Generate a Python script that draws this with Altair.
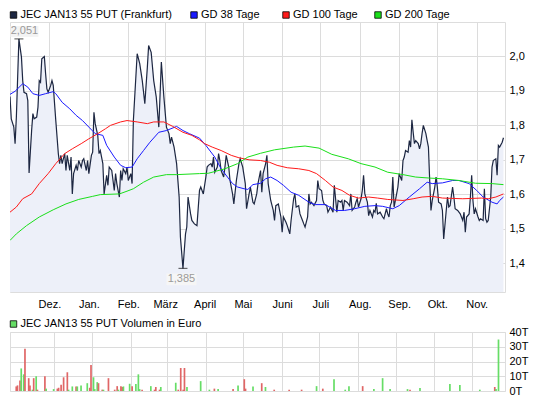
import altair as alt
import pandas as pd

# ---------------- data ----------------
START = "2011-10-31"   # day 0 of the day offsets below

price_day = [0,1,3,4,5,7,9,10,11,13,14,15,17,18,19,21,22,23,24,25,27,28,29,30,32,33,34,36,38,39,40,41,43,44,45,47,48,49,50,52,53,54,56,57,58,60,61,62,64,65,66,67,69,70,71,73,74,76,77,78,80,82,83,84,86,87,88,89,91,92,93,95,96,97,100,102,104,106,108,109,111,113,115,117,119,121,123,125,126,127,129,131,133,134,136,138,139,140,142,143,145,147,149,150,152,154,155,156,158,159,160,161,163,164,165,166,168,169,170,172,173,175,176,178,180,181,183,185,186,188,189,191,192,194,195,197,198,199,201,202,203,205,207,208,209,211,213,214,215,217,218,220,221,223,224,225,227,228,230,231,232,234,235,236,237,239,241,242,243,245,246,247,249,250,252,254,255,257,258,260,261,262,263,265,267,268,269,271,272,273,274,276,277,278,279,281,282,283,285,286,287,288,289,291,293,294,296,297,298,299,300,301,302,304,305,306,308,309,310,311,313,314,315,316,317,318,319,321,322,323,324,325,327,328,329,330,331,332,334,335,336,337,339,340,341,343,344,345,346,348,349,350,352,353,354,356,357,358,359,361,362,363,364,365,366,368,369,370,372,373,374,375,376,378,379,380,382,383,384,385,387,388]
price_val = [1.884,1.819,1.795,1.747,1.824,2.051,1.998,1.930,1.896,1.892,1.872,1.662,1.785,1.834,1.819,1.824,1.853,1.930,1.925,1.993,2.000,1.950,1.906,1.896,1.916,1.930,1.916,1.814,1.718,1.689,1.713,1.689,1.718,1.669,1.713,1.669,1.708,1.601,1.660,1.684,1.669,1.698,1.679,1.698,1.703,1.669,1.698,1.660,1.713,1.722,1.838,1.805,1.771,1.718,1.727,1.689,1.601,1.655,1.626,1.679,1.669,1.611,1.660,1.631,1.592,1.669,1.640,1.674,1.660,1.679,1.640,1.660,1.631,1.814,2.008,1.979,1.930,1.863,1.969,2.032,2.012,1.930,1.882,1.795,1.984,1.882,1.795,1.776,1.747,1.766,1.737,1.689,1.592,1.476,1.385,1.485,1.505,1.592,1.543,1.524,1.514,1.509,1.611,1.621,1.601,1.650,1.679,1.684,1.689,1.679,1.708,1.664,1.679,1.718,1.698,1.669,1.650,1.679,1.713,1.679,1.640,1.601,1.572,1.640,1.689,1.703,1.679,1.631,1.558,1.601,1.621,1.577,1.572,1.601,1.631,1.669,1.606,1.660,1.689,1.713,1.631,1.582,1.553,1.524,1.567,1.572,1.534,1.490,1.534,1.519,1.509,1.485,1.524,1.587,1.601,1.563,1.567,1.543,1.524,1.514,1.505,1.534,1.601,1.572,1.577,1.567,1.582,1.640,1.616,1.611,1.582,1.572,1.567,1.548,1.563,1.548,1.626,1.548,1.582,1.577,1.582,1.553,1.582,1.577,1.567,1.601,1.553,1.563,1.577,1.587,1.563,1.587,1.611,1.655,1.601,1.577,1.538,1.553,1.534,1.553,1.548,1.574,1.543,1.548,1.534,1.529,1.558,1.543,1.534,1.567,1.577,1.650,1.563,1.601,1.621,1.660,1.640,1.698,1.708,1.727,1.722,1.756,1.737,1.816,1.780,1.747,1.756,1.747,1.732,1.747,1.776,1.800,1.776,1.756,1.737,1.640,1.553,1.582,1.621,1.650,1.621,1.577,1.572,1.553,1.470,1.553,1.592,1.563,1.567,1.621,1.592,1.558,1.553,1.548,1.543,1.524,1.548,1.490,1.534,1.543,1.592,1.655,1.582,1.543,1.558,1.534,1.524,1.529,1.524,1.616,1.529,1.519,1.524,1.592,1.679,1.698,1.703,1.655,1.742,1.737,1.751,1.764]

gd38_day = [0,4,10,14,18,23,28,34,36,41,47,52,57,62,67,73,76,82,87,91,96,100,105,110,117,123,131,136,141,149,154,161,166,171,175,179,184,187,191,197,201,205,210,215,221,227,235,240,248,256,263,271,279,287,293,301,306,314,322,328,332,340,348,353,361,367,372,379,383,385,388]
gd38_val = [1.890,1.899,1.921,1.911,1.892,1.887,1.892,1.898,1.892,1.867,1.848,1.829,1.814,1.795,1.776,1.771,1.742,1.708,1.684,1.677,1.679,1.703,1.727,1.751,1.780,1.785,1.797,1.785,1.776,1.763,1.742,1.708,1.674,1.650,1.631,1.621,1.616,1.614,1.628,1.632,1.645,1.650,1.640,1.626,1.606,1.597,1.577,1.570,1.570,1.553,1.553,1.558,1.565,1.567,1.565,1.558,1.567,1.592,1.616,1.635,1.631,1.633,1.640,1.640,1.631,1.611,1.592,1.577,1.572,1.582,1.592]

gd100_day = [0,5,10,17,23,30,36,43,49,56,62,69,75,79,87,92,100,108,113,121,128,136,143,149,153,159,166,174,180,188,197,204,210,218,227,235,241,248,254,261,267,274,282,289,297,309,317,324,332,340,356,371,376,382,388]
gd100_val = [1.548,1.563,1.587,1.601,1.631,1.660,1.689,1.718,1.732,1.747,1.761,1.776,1.790,1.800,1.810,1.814,1.810,1.805,1.810,1.810,1.797,1.780,1.771,1.758,1.747,1.737,1.727,1.713,1.706,1.700,1.698,1.693,1.684,1.677,1.674,1.669,1.660,1.640,1.621,1.611,1.597,1.589,1.592,1.589,1.585,1.582,1.587,1.592,1.594,1.589,1.587,1.589,1.587,1.592,1.601]

gd200_day = [0,5,13,23,34,44,54,65,71,86,92,97,105,113,123,131,149,156,169,179,187,197,208,223,232,243,253,266,276,287,297,309,319,330,340,353,366,379,388]
gd200_val = [1.466,1.485,1.509,1.534,1.555,1.572,1.585,1.594,1.599,1.601,1.609,1.616,1.635,1.650,1.657,1.657,1.660,1.661,1.674,1.689,1.708,1.719,1.729,1.737,1.740,1.734,1.716,1.703,1.689,1.679,1.664,1.657,1.650,1.647,1.645,1.640,1.632,1.631,1.628]

vol_day = [1,2,4,5,7,8,11,12,14,15,17,18,24,25,31,34,35,37,39,42,43,46,49,50,53,58,60,61,63,64,66,67,70,71,75,80,82,83,85,86,87,92,94,97,99,100,102,109,112,113,116,117,129,131,133,135,136,138,149,156,160,163,175,179,184,185,191,198,201,208,220,230,242,247,256,265,268,279,288,295,301,315,317,325,349,357,373,385,386,388]
vol_val = [3.1,3.8,7.1,15.3,11.3,28.7,8.7,3.8,0.9,8.7,10,0.9,10,1.6,1.3,1.6,2.2,4.2,9.3,12.7,0.9,3.1,3.1,3.1,3.8,5.3,2.2,17.6,9.3,1.3,6,5.3,0.9,0.9,8.7,0.9,3.3,0.9,3.3,2.7,3.1,4.9,3.3,4.7,11.3,1.3,0.9,3.3,0.9,2.7,0.9,2.7,5.6,0.9,15.6,0.9,15.6,2.7,6.7,0.9,1.6,1.3,1.3,3.8,8,1.6,3.1,5.3,2.7,0.9,0.9,0.9,3.3,1.6,8,0.9,3.3,3.3,1.3,8.7,1.3,1.3,0.9,2,4.7,4,0.9,2.7,1.3,34.9]
vol_dir = ["d","d","d","u","u","d","d","d","u","d","u","d","d","u","u","d","d","d","d","d","u","u","d","u","u","u","d","d","u","u","u","d","d","u","d","d","d","u","d","d","u","u","d","u","u","u","d","u","d","d","d","u","u","d","d","d","d","u","u","u","d","u","d","u","d","d","u","d","u","d","d","d","u","d","u","u","u","d","u","u","u","u","d","u","u","u","u","d","u","u"]

month_labels = ["Jan.", "Feb.", "März", "April", "Mai", "Juni", "Juli", "Aug.", "Sep.", "Okt.", "Nov.", "Dez."]
price_name = "JEC JAN13 55 PUT (Frankfurt)"
ma_names = ["GD 38 Tage", "GD 100 Tage", "GD 200 Tage"]
volume_name = "JEC JAN13 55 PUT Volumen in Euro"
price_ticks = [1.4, 1.5, 1.6, 1.7, 1.8, 1.9, 2.0]
volume_ticks = [0, 10, 20, 30, 40]

# ---------------- tables ----------------
start = pd.Timestamp(START)
def as_dates(days):
    return [(start + pd.Timedelta(days=int(d))).strftime("%Y-%m-%dT00:00:00") for d in days]

price = pd.DataFrame({"date": as_dates(price_day), "value": price_val})
lines = pd.concat([
    pd.DataFrame({"date": as_dates(d), "value": v, "series": n})
    for d, v, n in [(gd38_day, gd38_val, ma_names[0]),
                    (gd100_day, gd100_val, ma_names[1]),
                    (gd200_day, gd200_val, ma_names[2])]
], ignore_index=True)
vol = pd.DataFrame({"date": as_dates(vol_day), "vol": vol_val, "dir": vol_dir})

imax = price["value"].idxmax()
imin = price["value"].idxmin()
ext_max = price.loc[[imax]].assign(label=lambda d: d["value"].map(lambda v: f"{v:.3f}".replace(".", ",")))
ext_min = price.loc[[imin]].assign(label=lambda d: d["value"].map(lambda v: f"{v:.3f}".replace(".", ",")))
one = pd.DataFrame({"k": [0]})

# ---------------- styling ----------------
FONT = "Liberation Sans"
GRID = "#dcdcdc"
C_PRICE = "#1d2742"
C_FILL = "#edf0f9"
MA_COLORS = ["#1a1aff", "#ff1a1a", "#1adf1a"]
C_UP, C_DOWN = "#66dd66", "#e06666"

W = 495
xscale = alt.Scale(domain=[alt.DateTime(year=2011, month=10, date=31),
                           alt.DateTime(year=2012, month=11, date=23, hours=5)])
month_starts = [alt.DateTime(year=2011, month=12, date=1)] + \
               [alt.DateTime(year=2012, month=m, date=1) for m in range(1, 12)]
label_expr = "[" + ",".join(f"'{m}'" for m in month_labels) + "][month(datum.value)]"

x_main = alt.X("date:T", scale=xscale, title=None,
               axis=alt.Axis(values=month_starts, labelExpr=label_expr, grid=True, gridColor=GRID,
                             ticks=False, domain=False, labelPadding=6, labelFontSize=11,
                             labelColor="#000", labelFont=FONT, labelFlush=False, labelOverlap=False))
y_main = alt.Y("value:Q", scale=alt.Scale(domain=[1.3163, 2.1001], zero=False, nice=False), title=None,
               axis=alt.Axis(orient="right", values=price_ticks, grid=True, gridColor=GRID, ticks=False,
                             domain=False, labelPadding=4, labelFontSize=11, labelColor="#000", labelFont=FONT,
                             labelExpr="replace(format(datum.value, '.1f'), '.', ',')"))

area = alt.Chart(price).mark_area(color=C_FILL, clip=True).encode(x=x_main, y=y_main)
ma = alt.Chart(lines).mark_line(strokeWidth=1, clip=True).encode(
    x=x_main, y=y_main,
    color=alt.Color("series:N", scale=alt.Scale(domain=ma_names, range=MA_COLORS), legend=None))
pline = alt.Chart(price).mark_line(color=C_PRICE, strokeWidth=1.2, clip=True).encode(x=x_main, y=y_main)

box_path = "M-1,-0.39L1,-0.39L1,0.39L-1,0.39Z"
max_box = alt.Chart(ext_max).mark_point(shape=box_path, size=784, filled=True, color="#f3f3f3",
                                        opacity=1, xOffset=5.5, yOffset=-7.5).encode(x=x_main, y=y_main)
max_txt = alt.Chart(ext_max).mark_text(dx=5.5, dy=-7.5, fontSize=11, color="#9a9a9a", font=FONT).encode(
    x=x_main, y=y_main, text="label:N")
max_tick = alt.Chart(ext_max).mark_tick(orient="horizontal", size=9, thickness=1, color="#000").encode(x=x_main, y=y_main)
min_box = alt.Chart(ext_min).mark_point(shape=box_path, size=900, filled=True, color="#f6f6f6",
                                        opacity=1, xOffset=-1.5, yOffset=11).encode(x=x_main, y=y_main)
min_txt = alt.Chart(ext_min).mark_text(dx=-1.5, dy=11, fontSize=11, color="#9a9a9a", font=FONT).encode(
    x=x_main, y=y_main, text="label:N")
min_tick = alt.Chart(ext_min).mark_tick(orient="horizontal", size=9, thickness=1, color="#000").encode(x=x_main, y=y_main)

legend_layers = []
for name, col, px in [(price_name, C_PRICE, 3.5), (ma_names[0], MA_COLORS[0], 184),
                      (ma_names[1], MA_COLORS[1], 276), (ma_names[2], MA_COLORS[2], 368)]:
    legend_layers.append(alt.Chart(one).mark_square(size=42, filled=True, fill=col, stroke="#000",
                                                    strokeWidth=0.8, opacity=1)
                         .encode(x=alt.value(px), y=alt.value(-7)))
    legend_layers.append(alt.Chart(one).mark_text(align="left", baseline="middle", fontSize=11,
                                                  color="#000", font=FONT)
                         .encode(x=alt.value(px + 7), y=alt.value(-7), text=alt.value(name)))

main = alt.layer(area, pline, ma, max_box, max_txt, max_tick, min_box, min_txt, min_tick,
                 *legend_layers).properties(width=W, height=270)

x_vol = alt.X("date:T", scale=xscale, title=None,
              axis=alt.Axis(values=month_starts, labels=False, ticks=False, domain=False,
                            grid=True, gridColor=GRID))
y_vol = alt.Y("vol:Q", scale=alt.Scale(domain=[0, 40], nice=False), title=None,
              axis=alt.Axis(orient="right", values=volume_ticks, grid=True, gridColor=GRID, ticks=False,
                            domain=False, labelPadding=4, labelFontSize=11, labelColor="#000",
                            labelFont=FONT, labelExpr="datum.value + 'T'"))
bars = alt.Chart(vol).mark_bar(size=1.7).encode(
    x=x_vol, y=y_vol,
    fill=alt.Fill("dir:N", scale=alt.Scale(domain=["u", "d"], range=[C_UP, C_DOWN]), legend=None))
vol_sw = alt.Chart(one).mark_square(size=42, filled=True, fill=C_UP, stroke="#000", strokeWidth=0.8,
                                    opacity=1).encode(x=alt.value(3.5), y=alt.value(-8))
vol_tx = alt.Chart(one).mark_text(align="left", baseline="middle", fontSize=11, color="#000", font=FONT).encode(
    x=alt.value(10.5), y=alt.value(-8), text=alt.value(volume_name))
volume = alt.layer(bars, vol_sw, vol_tx).properties(width=W, height=59)

chart = alt.vconcat(main, volume, spacing=7).resolve_scale(
    color="independent", fill="independent").properties(padding=0).configure_view(
    stroke="#d4d4d4", strokeWidth=1).configure(font=FONT)

chart.save("out.html", embed_options={"renderer": "svg", "actions": False})
